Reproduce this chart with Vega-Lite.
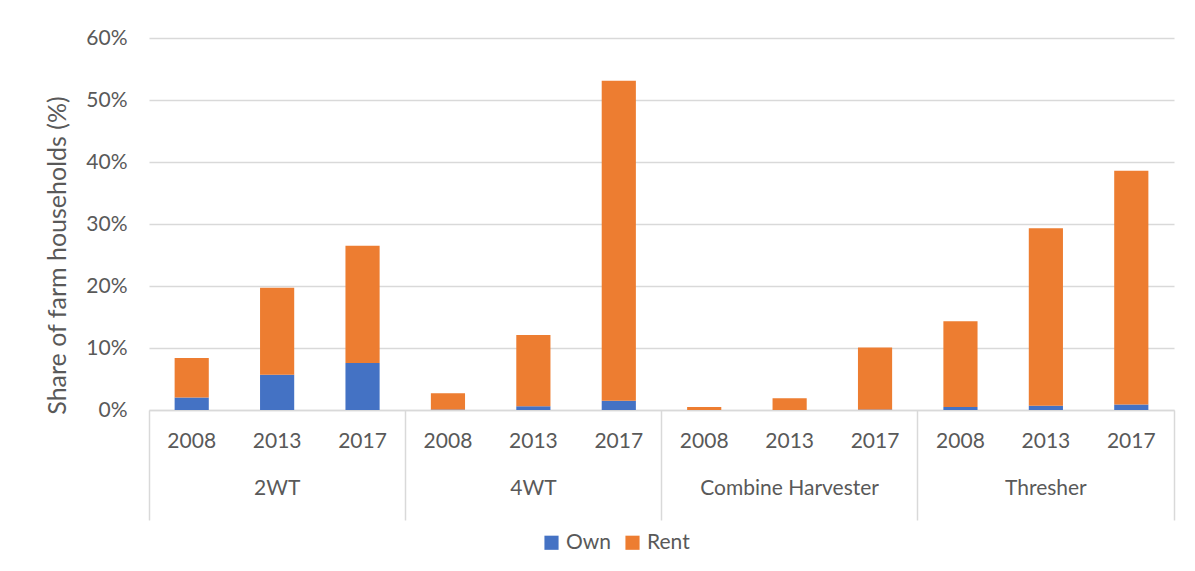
{
  "$schema": "https://vega.github.io/schema/vega-lite/v6.json",
  "autosize": {"type": "none"},
  "width": 1025,
  "height": 372,
  "padding": {"left": 149, "top": 38, "right": 21, "bottom": 161},
  "background": "white",
  "config": {
    "font": "Lato",
    "view": {"stroke": null},
    "axis": {"labelColor": "#595959", "titleColor": "#595959", "labelFont": "Lato", "titleFont": "Lato"},
    "legend": {"labelColor": "#595959", "labelFont": "Lato"}
  },
  "data": {
    "values": [
      {"category": "2WT", "year": "2008", "type": "Own", "value": 2.0},
      {"category": "2WT", "year": "2008", "type": "Rent", "value": 6.4},
      {"category": "2WT", "year": "2013", "type": "Own", "value": 5.7},
      {"category": "2WT", "year": "2013", "type": "Rent", "value": 14.0},
      {"category": "2WT", "year": "2017", "type": "Own", "value": 7.6},
      {"category": "2WT", "year": "2017", "type": "Rent", "value": 18.9},
      {"category": "4WT", "year": "2008", "type": "Own", "value": 0.1},
      {"category": "4WT", "year": "2008", "type": "Rent", "value": 2.6},
      {"category": "4WT", "year": "2013", "type": "Own", "value": 0.6},
      {"category": "4WT", "year": "2013", "type": "Rent", "value": 11.5},
      {"category": "4WT", "year": "2017", "type": "Own", "value": 1.5},
      {"category": "4WT", "year": "2017", "type": "Rent", "value": 51.6},
      {"category": "Combine Harvester", "year": "2008", "type": "Own", "value": 0.0},
      {"category": "Combine Harvester", "year": "2008", "type": "Rent", "value": 0.5},
      {"category": "Combine Harvester", "year": "2013", "type": "Own", "value": 0.0},
      {"category": "Combine Harvester", "year": "2013", "type": "Rent", "value": 1.9},
      {"category": "Combine Harvester", "year": "2017", "type": "Own", "value": 0.1},
      {"category": "Combine Harvester", "year": "2017", "type": "Rent", "value": 10.0},
      {"category": "Thresher", "year": "2008", "type": "Own", "value": 0.5},
      {"category": "Thresher", "year": "2008", "type": "Rent", "value": 13.8},
      {"category": "Thresher", "year": "2013", "type": "Own", "value": 0.7},
      {"category": "Thresher", "year": "2013", "type": "Rent", "value": 28.6},
      {"category": "Thresher", "year": "2017", "type": "Own", "value": 0.9},
      {"category": "Thresher", "year": "2017", "type": "Rent", "value": 37.7}
    ]
  },
  "transform": [{"calculate": "datum.category + '|' + datum.year", "as": "key"}],
  "resolve": {"axis": {"x": "independent"}},
  "layer": [
    {
      "mark": {"type": "bar", "width": {"band": 0.4}},
      "encoding": {
        "x": {
          "field": "key", "type": "nominal", "sort": null,
          "scale": {"paddingInner": 0, "paddingOuter": 0},
          "axis": {
            "orient": "bottom", "title": null, "labelAngle": 0,
            "labelExpr": "split(datum.label, '|')[1]",
            "labelFontSize": 21, "labelPadding": 20, "ticks": false,
            "domain": true, "domainColor": "#D9D9D9", "domainWidth": 1.5,
            "grid": false
          }
        },
        "y": {
          "field": "value", "type": "quantitative", "stack": "zero",
          "scale": {"domain": [0, 60], "nice": false},
          "axis": {
            "title": "Share of farm households (%)",
            "titleFontSize": 25, "titleFontWeight": "normal", "titlePadding": 15,
            "titleY": 217, "titleAlign": "center",
            "values": [0, 10, 20, 30, 40, 50, 60],
            "labelExpr": "datum.value + '%'",
            "labelFontSize": 21, "labelPadding": 22,
            "ticks": false, "domain": false,
            "grid": true, "gridColor": "#D9D9D9", "gridWidth": 1.5
          }
        },
        "color": {
          "field": "type", "type": "nominal",
          "scale": {"domain": ["Own", "Rent"], "range": ["#4472C4", "#ED7D31"]},
          "legend": {
            "title": null, "orient": "none", "direction": "horizontal",
            "legendX": 392, "legendY": 494,
            "symbolType": "square", "symbolSize": 200, "symbolStrokeWidth": 0,
            "labelFontSize": 21, "labelOffset": 4, "columnSpacing": 13
          }
        },
        "order": {"field": "type", "sort": "ascending"}
      }
    },
    {
      "mark": {"type": "point", "opacity": 0},
      "encoding": {
        "x": {
          "field": "key", "type": "nominal", "sort": null,
          "axis": {
            "orient": "bottom", "title": null, "labelAngle": 0,
            "labelExpr": "split(datum.label, '|')[1] == '2013' ? split(datum.label, '|')[0] : ''",
            "labelFontSize": 21, "labelPadding": 67, "labelOverlap": false,
            "ticks": false, "domain": false, "grid": false
          }
        }
      }
    },
    {
      "mark": {"type": "point", "opacity": 0},
      "encoding": {
        "x": {
          "field": "key", "type": "nominal", "sort": null,
          "axis": {
            "orient": "bottom", "title": null, "labels": false,
            "values": ["2WT|2008", "4WT|2008", "Combine Harvester|2008", "Thresher|2008"],
            "bandPosition": 0, "ticks": true, "tickSize": 110,
            "tickColor": "#D9D9D9", "tickWidth": 1.5, "domain": false, "grid": false
          }
        }
      }
    },
    {
      "mark": {"type": "point", "opacity": 0},
      "encoding": {
        "x": {
          "field": "key", "type": "nominal", "sort": null,
          "axis": {
            "orient": "bottom", "title": null, "labels": false,
            "values": ["Thresher|2017"],
            "bandPosition": 1, "ticks": true, "tickSize": 110,
            "tickColor": "#D9D9D9", "tickWidth": 1.5, "domain": false, "grid": false
          }
        }
      }
    }
  ]
}
